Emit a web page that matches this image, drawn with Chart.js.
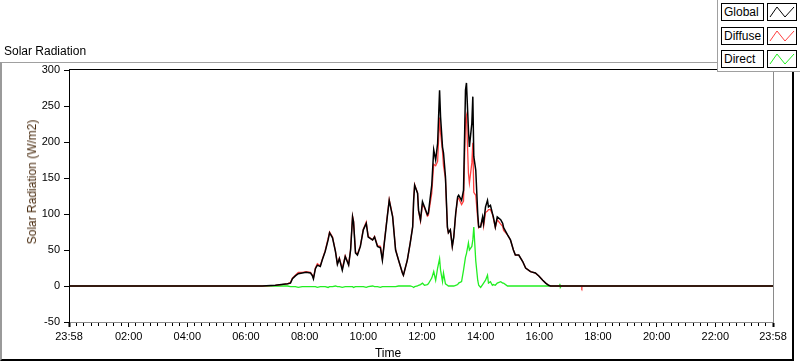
<!DOCTYPE html>
<html>
<head>
<meta charset="utf-8">
<script src="https://cdn.jsdelivr.net/npm/chart.js@4.4.1/dist/chart.umd.min.js"></script>
<style>
  body { margin: 0; background: #fff; font-family: 'Liberation Sans', Arial, sans-serif; }
  #wrap { position: relative; width: 800px; height: 361px; overflow: hidden; }
  #frame { position: absolute; left: 0; top: 62px; width: 794px; height: 299px; box-sizing: border-box;
           border-left: 2px solid #9a9a9a; border-top: 1px solid #a0a0a0;
           border-right: 2px solid #000; border-bottom: 2px solid #000; }
  #chart { position: absolute; left: 0; top: 0; }
  .txt { position: absolute; font-size: 12px; white-space: nowrap; color: #000; }
  #title { left: 4px; top: 44px; }
  #ytitle { left: 31.5px; top: 181.5px; transform: translate(-50%, -50%) rotate(-90deg); color: #4a2c10; }
  #xtitle { left: 388px; top: 353px; transform: translate(-50%, -50%); }
  #legend { position: absolute; left: 717px; top: 0; width: 83px; height: 72px; background: #fff;
            border-left: 1px solid #a0a0a0; border-bottom: 1px solid #a0a0a0; box-sizing: border-box; }
  .lab { position: absolute; left: 721px; width: 43px; height: 18px; border: 1px solid #000; box-sizing: border-box;
         font-size: 12px; line-height: 16px; padding-left: 2px; background: #fff; }
  .sw { position: absolute; left: 767px; width: 30px; height: 18px; border: 1px solid #000; box-sizing: border-box; background: #fff; }
  .sw svg { position: absolute; left: 0; top: 0; }
</style>
</head>
<body>
<div id="wrap">
  <div id="frame"></div>
  <canvas id="chart" width="800" height="361"></canvas>
  <div class="txt" id="title">Solar Radiation</div>
  <div class="txt" id="ytitle">Solar Radiation (W/m2)</div>
  <div class="txt" id="xtitle">Time</div>
  <div id="legend"></div>
</div>
<script>
// sample times (HH:MM)
const times = ['00:00', '06:33', '07:00', '07:25', '07:31', '07:35', '07:41', '07:47', '07:55', '08:03',
  '08:12', '08:16', '08:18', '08:22', '08:26', '08:32', '08:36', '08:42', '08:48', '08:51',
  '08:57', '09:03', '09:07', '09:11', '09:17', '09:23', '09:30', '09:34', '09:38', '09:40',
  '09:44', '09:48', '09:54', '10:00', '10:06', '10:10', '10:19', '10:23', '10:29', '10:35',
  '10:39', '10:43', '10:49', '10:53', '11:00', '11:06', '11:12', '11:20', '11:22', '11:30',
  '11:36', '11:41', '11:43', '11:45', '11:51', '11:53', '11:57', '12:01', '12:05', '12:11',
  '12:13', '12:20', '12:24', '12:28', '12:32', '12:36', '12:38', '12:42', '12:44', '12:48',
  '12:52', '12:54', '12:58', '13:02', '13:05', '13:09', '13:13', '13:15', '13:21', '13:25',
  '13:29', '13:31', '13:35', '13:37', '13:42', '13:44', '13:46', '13:50', '13:54', '13:56',
  '14:00', '14:04', '14:06', '14:10', '14:14', '14:16', '14:20', '14:24', '14:26', '14:30',
  '14:34', '14:41', '14:45', '14:47', '14:55', '15:01', '15:07', '15:11', '15:18', '15:26',
  '15:32', '15:42', '15:52', '15:59', '16:07', '16:13', '16:19', '16:23', '16:41', '16:42',
  '16:43', '16:45', '17:26', '17:27', '17:28', '23:58'];

const globalVals = [0, 0, 1, 3, 4, 10, 14, 17, 18, 19,
  18, 14, 10, 24, 29, 27, 36, 48, 64, 74,
  67, 48, 30, 38, 22, 41, 29, 50, 96, 89,
  46, 43, 55, 78, 87, 68, 64, 68, 55, 53,
  36, 60, 96, 119, 96, 50, 36, 18, 15, 36,
  60, 82, 119, 140, 129, 105, 92, 117, 110, 99,
  101, 140, 189, 175, 198, 272, 235, 193, 185, 152,
  82, 74, 78, 55, 68, 101, 124, 126, 119, 133,
  272, 282, 217, 193, 226, 263, 180, 161, 101, 82,
  82, 96, 87, 110, 119, 110, 112, 101, 96, 82,
  96, 92, 87, 81, 71, 64, 50, 43, 43, 34,
  25, 20, 18, 14, 8, 4, 1, 0, 0, 0,
  0, 0, 0, 0, 0, 0];

const diffuseVals = [0, 0, 1, 3, 5, 11, 15, 19, 19, 20,
  19, 15, 11, 25, 31, 28, 37, 49, 66, 75,
  68, 48, 31, 39, 24, 42, 30, 51, 97, 91,
  47, 44, 56, 79, 89, 69, 64, 69, 56, 55,
  37, 61, 97, 120, 97, 51, 36, 18, 15, 36,
  60, 83, 121, 141, 129, 104, 90, 113, 109, 97,
  98, 129, 169, 167, 173, 234, 213, 187, 167, 149,
  81, 74, 78, 55, 68, 100, 122, 122, 113, 118,
  232, 237, 157, 143, 171, 199, 130, 126, 93, 81,
  84, 94, 83, 102, 104, 106, 106, 100, 94, 81,
  92, 86, 83, 77, 71, 64, 50, 43, 43, 34,
  25, 20, 18, 14, 8, 4, 1, 0, 0, 0,
  0, 0, 0, -2, 0, 0];

const directVals = [0, 0, 0, 0, -1, -1, -1, -2, -1, -1,
  -1, -1, -1, -1, -2, -1, -1, -1, -2, -1,
  -1, 0, -1, -1, -2, -1, -1, -1, -1, -2,
  -1, -1, -1, -1, -2, -1, 0, -1, -1, -2,
  -1, -1, -1, -1, -1, -1, 0, 0, 0, 0,
  0, -1, -2, -1, 0, 1, 2, 4, 1, 2,
  3, 11, 20, 8, 25, 38, 22, 6, 18, 3,
  1, 0, 0, 0, 0, 1, 2, 4, 6, 22,
  40, 45, 60, 50, 55, 64, 82, 35, 8, 1,
  -2, 2, 4, 8, 15, 4, 6, 1, 2, 1,
  4, 6, 4, 4, 0, 0, 0, 0, 0, 0,
  0, 0, 0, 0, 0, 0, 0, 0, 0, 3,
  -2, 0, 0, 0, 0, 0];

const seriesNames = ['Global', 'Diffuse', 'Direct'];
const seriesColors = ['#000000', '#ff4040', '#22ee22'];

// x axis: major tick positions (minutes from midnight) and their labels
const xMajorMinutes = [-2, 120, 240, 360, 480, 600, 720, 840, 960, 1080, 1200, 1320, 1438];
const xMajorLabels = ['23:58', '02:00', '04:00', '06:00', '08:00', '10:00', '12:00',
  '14:00', '16:00', '18:00', '20:00', '22:00', '23:58'];
const yTicks = [-50, 0, 50, 100, 150, 200, 250, 300];

function toMin(s) {
  const p = s.split(':');
  return parseInt(p[0], 10) * 60 + parseInt(p[1], 10);
}
const xs = times.map(toMin);

function pts(vals) {
  return vals.map((v, i) => ({ x: xs[i], y: v }));
}

// html legend
const wrap = document.getElementById('wrap');
seriesNames.forEach((name, i) => {
  const top = 3 + i * 23.5;
  const lab = document.createElement('div');
  lab.className = 'lab';
  lab.style.top = top + 'px';
  lab.textContent = name;
  wrap.appendChild(lab);
  const sw = document.createElement('div');
  sw.className = 'sw';
  sw.style.top = top + 'px';
  sw.innerHTML = '<svg width="28" height="16"><polyline points="2,13 9,3 17,13 26,3" fill="none" stroke="' +
    seriesColors[i] + '" stroke-width="1"/></svg>';
  wrap.appendChild(sw);
});

Chart.defaults.font.family = "'Liberation Sans', Arial, sans-serif";
Chart.defaults.font.size = 11;
Chart.defaults.color = '#000';

const plotFrame = {
  id: 'plotFrame',
  afterDraw(chart) {
    const a = chart.chartArea;
    const c = chart.ctx;
    c.save();
    c.lineWidth = 1;
    c.strokeStyle = '#000';
    c.beginPath();
    c.moveTo(a.left, Math.round(a.top) - 0.5);
    c.lineTo(a.right, Math.round(a.top) - 0.5);
    c.stroke();
    c.strokeStyle = '#8a8a8a';
    c.beginPath();
    c.moveTo(Math.round(a.right) + 0.5, a.top);
    c.lineTo(Math.round(a.right) + 0.5, a.bottom);
    c.stroke();
    c.restore();
  }
};

const widths = [1.5, 1.3, 1.3];
const ctx = document.getElementById('chart').getContext('2d');
const chart = new Chart(ctx, {
  type: 'line',
  data: {
    datasets: [globalVals, diffuseVals, directVals].map((vals, i) => ({
      label: seriesNames[i],
      data: pts(vals),
      borderColor: seriesColors[i],
      backgroundColor: seriesColors[i],
      borderWidth: widths[i],
      pointRadius: 0,
      tension: 0,
      fill: false
    }))
  },
  options: {
    responsive: false,
    animation: false,
    events: [],
    layout: { padding: { top: 70, right: 27, left: 0, bottom: 0 } },
    plugins: {
      legend: { display: false },
      tooltip: { enabled: false },
      title: { display: false }
    },
    scales: {
      x: {
        type: 'linear',
        min: -2,
        max: 1438,
        afterFit(scale) { scale.height = 39; },
        afterBuildTicks(scale) {
          const ticks = [];
          for (let i = 0; i < xMajorMinutes.length; i++) {
            ticks.push({ value: xMajorMinutes[i], major: true });
            if (i < xMajorMinutes.length - 1) {
              const a = xMajorMinutes[i], b = xMajorMinutes[i + 1];
              for (let k = 1; k < 8; k++) ticks.push({ value: a + (b - a) * k / 8, major: false });
            }
          }
          scale.ticks = ticks;
        },
        ticks: {
          autoSkip: false,
          maxRotation: 0,
          padding: 3,
          callback(value) {
            const j = xMajorMinutes.indexOf(value);
            return j >= 0 ? xMajorLabels[j] : '';
          }
        },
        grid: {
          drawOnChartArea: false,
          drawTicks: true,
          tickLength: 5,
          tickColor: '#000',
          tickWidth(c) {
            if (!c.tick || !c.tick.major) return 1;
            return (c.index === 0 || c.tick.value === 1438) ? 2 : 1;
          },
          tickBorderDash(c) { return (c.tick && c.tick.major) ? [] : [3, 20]; }
        },
        border: { color: '#8a8a8a', width: 1 }
      },
      y: {
        min: -50,
        max: 300,
        afterFit(scale) { scale.width = 69; },
        afterBuildTicks(scale) { scale.ticks = yTicks.map(v => ({ value: v })); },
        ticks: { padding: 4 },
        grid: {
          drawOnChartArea: false,
          drawTicks: true,
          tickLength: 5,
          tickColor: '#000'
        },
        border: { color: '#000', width: 1 }
      }
    }
  },
  plugins: [plotFrame]
});
</script>
</body>
</html>
